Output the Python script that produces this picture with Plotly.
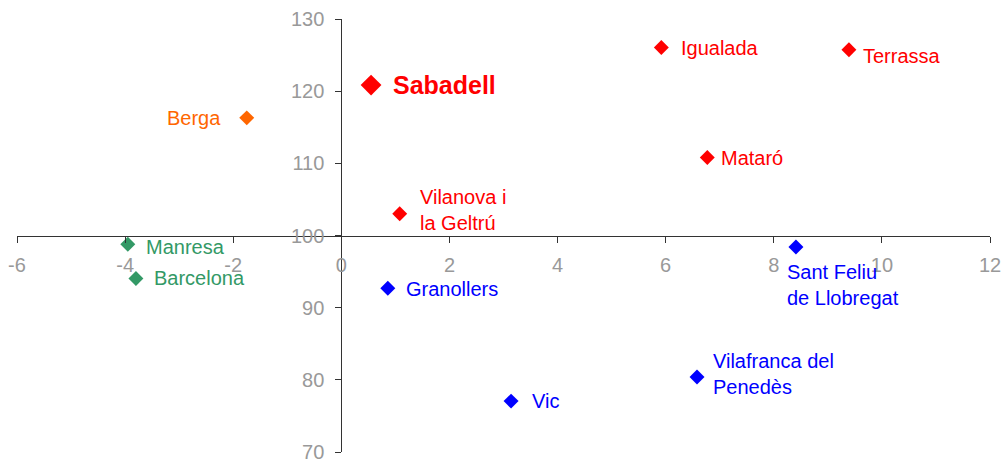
import plotly.graph_objects as go

# ---- data ----
cities = ["Sabadell", "Igualada", "Terrassa", "Mataró", "Vilanova i<br>la Geltrú",
          "Berga", "Manresa", "Barcelona",
          "Granollers", "Sant Feliu<br>de Llobregat", "Vic", "Vilafranca del<br>Penedès"]
x_vals = [0.55, 5.92, 9.39, 6.77, 1.08,
          -1.75, -3.95, -3.80,
          0.86, 8.41, 3.14, 6.58]
y_vals = [120.85, 126.05, 125.75, 110.8, 103.0,
          116.3, 98.8, 94.05,
          92.7, 98.4, 77.05, 80.4]
groups = ["red", "red", "red", "red", "red",
          "orange", "green", "green",
          "blue", "blue", "blue", "blue"]
x_ticks = [-6, -4, -2, 0, 2, 4, 6, 8, 10, 12]
x_tick_labels = ["-6", "-4", "-2", "0", "2", "4", "6", "8", "10", "12"]
y_ticks = [70, 80, 90, 100, 110, 120, 130]
y_tick_labels = ["70", "80", "90", "100", "110", "120", "130"]

# ---- style ----
palette = {"red": "#FF0000", "orange": "#FF6600", "green": "#339966", "blue": "#0000FF"}
FONT = "Liberation Sans, Arial, sans-serif"
# label placement: (xanchor, yanchor, xshift, yshift)
label_pos = {
    "Sabadell": ("left", "middle", 20, 0),
    "Igualada": ("left", "middle", 18, 0),
    "Terrassa": ("left", "middle", 12, -6),
    "Mataró": ("left", "middle", 12, 0),
    "Vilanova i<br>la Geltrú": ("left", "middle", 18, 4),
    "Berga": ("right", "middle", -24, 0),
    "Manresa": ("left", "middle", 16, -3),
    "Barcelona": ("left", "middle", 16, 0),
    "Granollers": ("left", "middle", 16, -1),
    "Sant Feliu<br>de Llobregat": ("left", "top", -11, -12),
    "Vic": ("left", "middle", 19, 0),
    "Vilafranca del<br>Penedès": ("left", "middle", 14, 3),
}

colors = [palette[g] for g in groups]
sizes = [16 if c == "Sabadell" else 11.5 for c in cities]

fig = go.Figure()
fig.add_trace(go.Scatter(
    x=x_vals, y=y_vals, mode="markers",
    marker=dict(symbol="diamond", size=sizes, color=colors, opacity=1, line=dict(width=0)),
    hoverinfo="text", text=cities, showlegend=False,
))

annotations = []
for name, xv, yv, col in zip(cities, x_vals, y_vals, colors):
    xa, ya, dx, dy = label_pos[name]
    bold = name == "Sabadell"
    annotations.append(dict(
        x=xv, y=yv, xref="x", yref="y", text=f"<b>{name}</b>" if bold else name,
        showarrow=False, xanchor=xa, yanchor=ya, xshift=dx, yshift=dy, align="left",
        font=dict(family=FONT, size=25 if bold else 20, color=col),
    ))

axis_common = dict(
    showgrid=False, zeroline=False, showline=True, linecolor="#333333", linewidth=1,
    ticks="outside", ticklen=6, tickwidth=1, tickcolor="#333333",
    tickfont=dict(family=FONT, size=20, color="#999999"), automargin=False,
    ticklabeloverflow="allow",
)

fig.update_layout(
    width=1004, height=460,
    margin=dict(l=17, r=14, t=19, b=8),
    paper_bgcolor="white", plot_bgcolor="white",
    xaxis=dict(range=[-6, 12], tickvals=x_ticks, ticktext=x_tick_labels,
               anchor="free", position=0.5, ticklabelstandoff=5, **axis_common),
    yaxis=dict(range=[70, 130], tickvals=y_ticks, ticktext=y_tick_labels,
               anchor="free", position=1/3, ticklabelstandoff=7, **axis_common),
    annotations=annotations,
)

fig.write_html("out.html", config={"displayModeBar": False},
               post_script="document.body.style.margin='0';document.body.style.overflow='hidden';")
